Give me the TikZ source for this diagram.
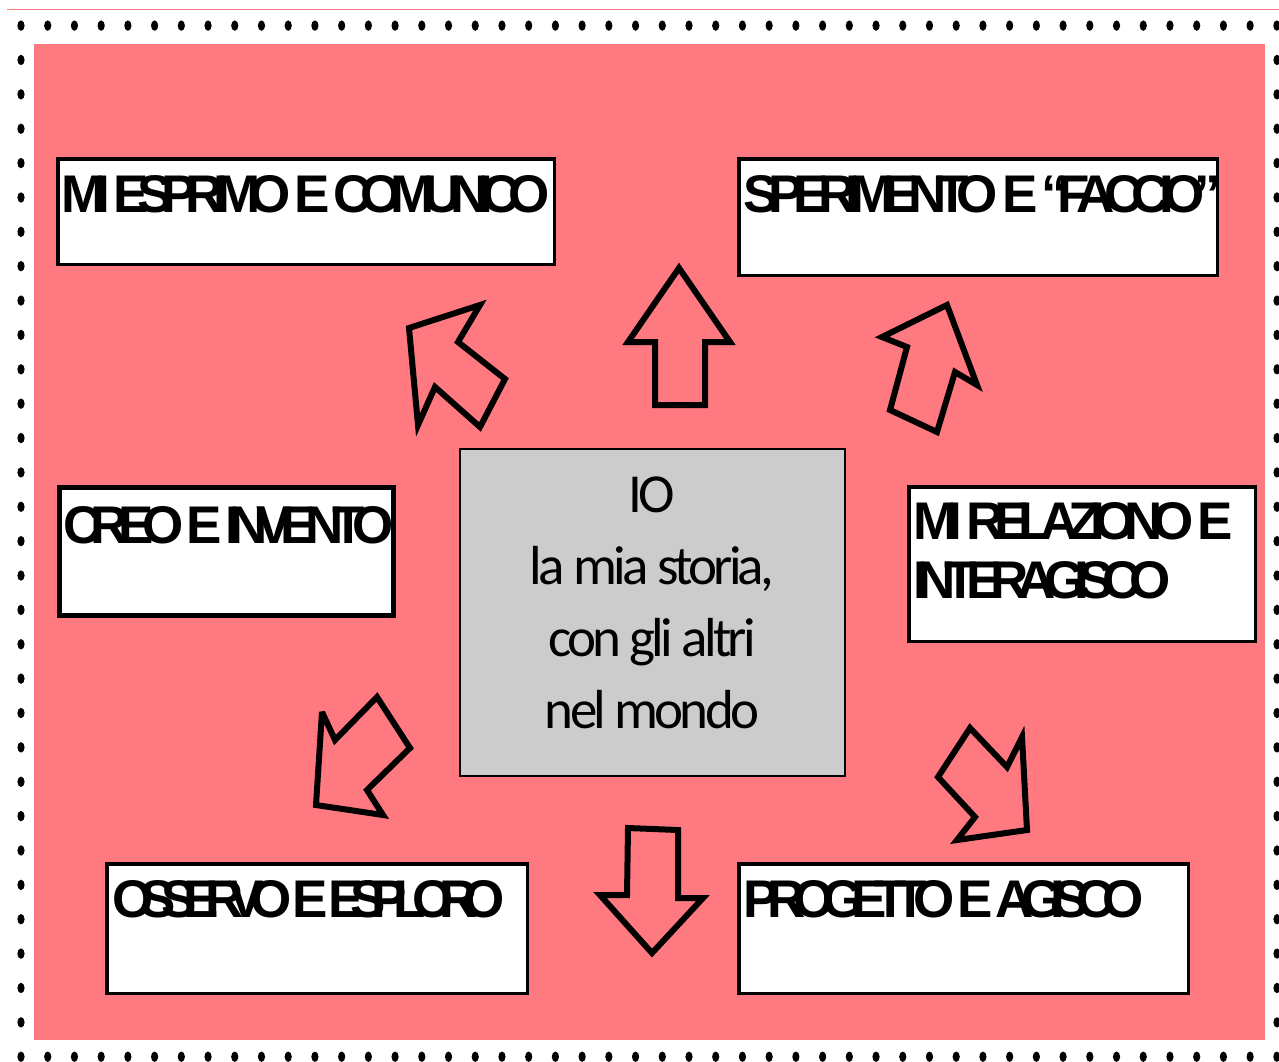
\documentclass[tikz,border=0pt]{standalone}
\usepackage{fontspec}
\setmainfont{Liberation Sans}
\newfontfamily\campofont{Liberation Sans}
\newfontfamily\iofont[LetterSpace=-7]{Carlito}
\usetikzlibrary{positioning}

\definecolor{rosa}{RGB}{255,122,128}
\definecolor{grigio}{RGB}{204,204,204}

\tikzset{
  campo/.style={draw=black, line width=3.5pt, fill=white, inner sep=0pt, outer sep=0pt, anchor=north west},
  titolo/.style={anchor=base west, inner sep=0pt,
    font=\campofont\bfseries\addfontfeatures{LetterSpace=#1}\fontsize{53}{59}\selectfont},
  titolo/.default=-21,
  freccia/.style={draw=black, line width=6pt, line join=miter, miter limit=4},
  puntino/.style={fill=black}
}

\begin{document}
\begin{tikzpicture}[x=1pt,y=-1pt]
    \useasboundingbox (0,0) rectangle (1279,1061);
    % cornice a puntini
    \draw[rosa, line width=1pt] (7,9.5) -- (1279,9.5);
    \foreach \i in {0,...,47} {
      \fill[puntino] (21+\i*26.72,25.6) ellipse (3.6 and 5.2);
      \fill[puntino] (21+\i*26.72,1056.7) ellipse (3.6 and 5.2);
    }
    \foreach \j in {1,...,29} {
      \fill[puntino] (21,25.6+\j*34.37) ellipse (3.6 and 5.2);
      \fill[puntino] (1277,25.6+\j*34.37) ellipse (3.6 and 5.2);
    }
    \fill[rosa] (34,44) rectangle (1265,1040);

    % riquadri
    \node[campo, minimum width=496.5pt, minimum height=105.5pt] (esprimo) at (57.75,158.75) {};
    \node[campo, minimum width=478.5pt, minimum height=116.5pt] (sperimento) at (738.75,158.75) {};
    \node[campo, line width=5pt, minimum width=334pt, minimum height=128pt] (creo) at (59.5,487.5) {};
    \node[campo, minimum width=346.5pt, minimum height=154.5pt] (relaziono) at (908.75,486.75) {};
    \node[campo, minimum width=420.5pt, minimum height=129.5pt] (osservo) at (106.75,863.75) {};
    \node[campo, minimum width=449.5pt, minimum height=129.5pt] (progetto) at (738.75,863.75) {};
    \node[campo, fill=grigio, line width=2pt, minimum width=385pt, minimum height=327pt] (io) at (460,449) {};

    \node[titolo] (esprimo-t) at ([shift={(4,54)}]esprimo.north west) {MI ESPRIMO E COMUNICO};
    \node[titolo=-20] (sperimento-t) at ([shift={(5,54)}]sperimento.north west) {SPERIMENTO E “FACCIO”};
    \node[titolo] (creo-t) at ([shift={(4,55.5)}]creo.north west) {CREO E INVENTO};
    \node[titolo=-20] (relaziono-t) at ([shift={(5,53)}]relaziono.north west) {MI RELAZIONO E};
    \node[titolo] (relaziono-t2) at ([shift={(5,112)}]relaziono.north west) {INTERAGISCO};
    \node[titolo=-26] (osservo-t) at ([shift={(6,54)}]osservo.north west) {OSSERVO E ESPLORO};
    \node[titolo=-23] (progetto-t) at ([shift={(5,54)}]progetto.north west) {PROGETTO E AGISCO};

    \node[anchor=base, align=center, inner sep=0pt, font=\iofont\fontsize{55}{72}\selectfont] (io-t)
      at (652,728) {IO\\la mia storia,\\con gli altri\\nel mondo};

    % frecce
    \draw[freccia] (409,328) -- (480,305) -- (458,342) -- (505,379) -- (480,427) -- (435,387) -- (418,425) -- cycle;
    \draw[freccia] (679,268) -- (730,342) -- (705,342) -- (705,405) -- (655,405) -- (655,342) -- (628,342) -- cycle;
    \draw[freccia] (947,305) -- (977,385) -- (955,372) -- (937,432) -- (890,410) -- (907,347) -- (882,337) -- cycle;
    \draw[freccia] (316,805) -- (322,712) -- (335,740) -- (377,697) -- (410,748) -- (367,790) -- (383,815) -- cycle;
    \draw[freccia] (1027,830) -- (1022,737) -- (1007,767) -- (970,728) -- (938,777) -- (975,817) -- (957,840) -- cycle;
    \draw[freccia] (652,953) -- (703,898) -- (678,898) -- (678,830) -- (628,828) -- (627,895) -- (600,895) -- cycle;
\end{tikzpicture}
\end{document}
